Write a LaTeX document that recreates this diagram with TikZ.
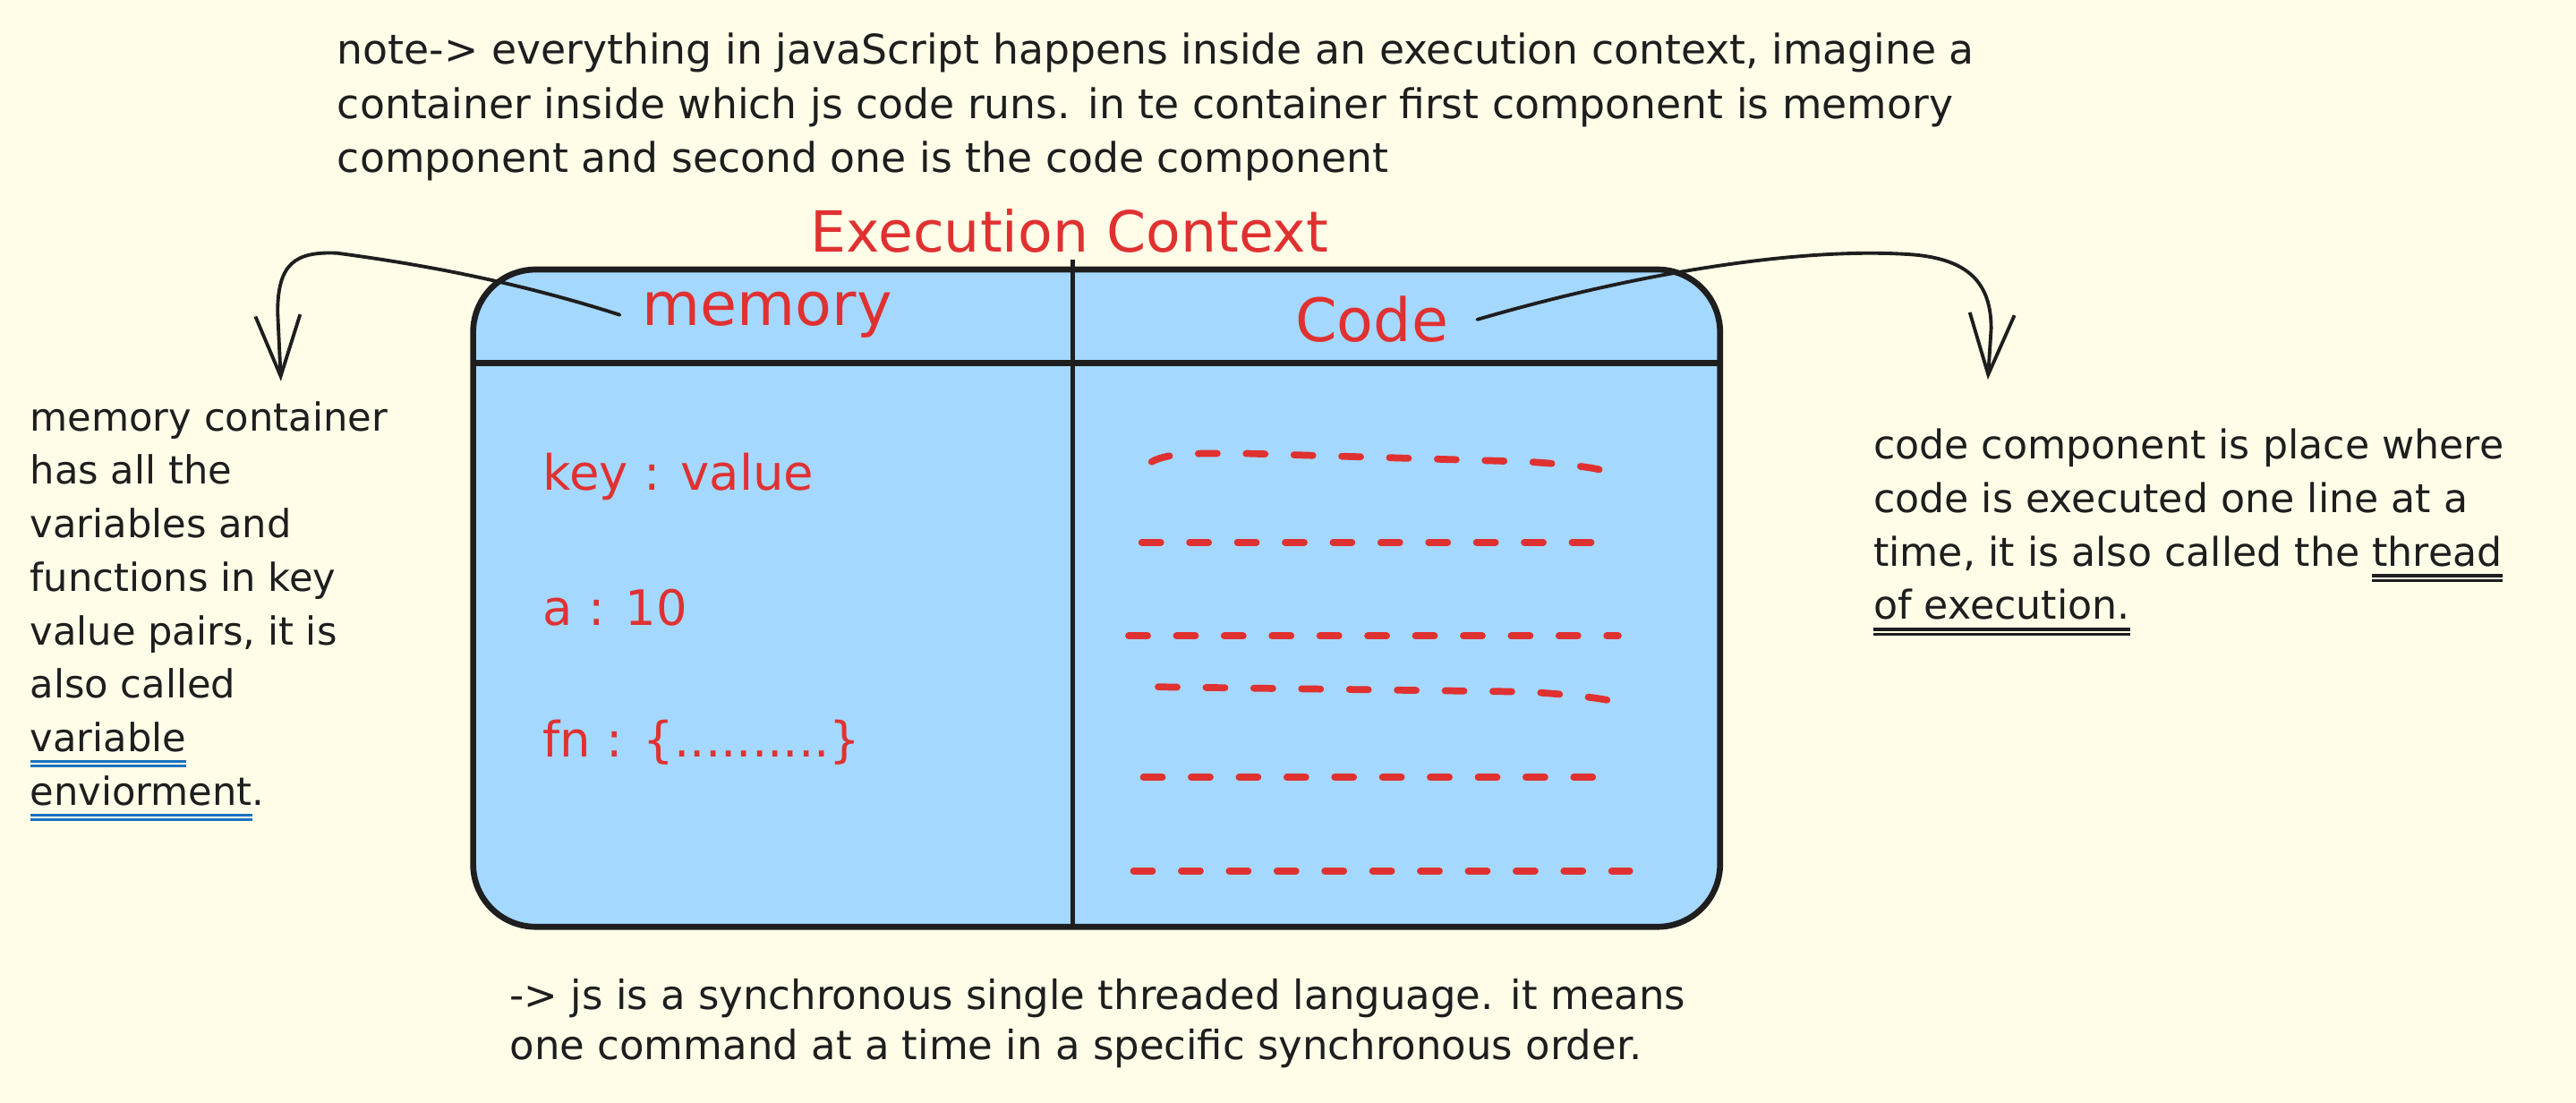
\documentclass[tikz,border=0pt]{standalone}
\usepackage{fontspec}
\setmainfont{DejaVu Sans}
\usetikzlibrary{arrows.meta, positioning}
\definecolor{paper}{HTML}{FFFDE8}
\definecolor{ctxblue}{HTML}{A5D8FF}
\definecolor{inkred}{HTML}{E03131}
\definecolor{ink}{HTML}{1E1E1E}
\definecolor{ulblue}{HTML}{1971C2}
\newsavebox{\ulbox}
\newcommand{\sketchul}[2]{\sbox{\ulbox}{#2}\rlap{\textcolor{#1}{\rule[-3.6pt]{\wd\ulbox}{1pt}}}\rlap{\textcolor{#1}{\rule[-5pt]{\wd\ulbox}{0.8pt}}}\usebox{\ulbox}}

\tikzset{
  note/.style={font=\fontsize{12.3}{17}\selectfont, text=ink, align=left, inner sep=0pt, anchor=base west},
  redlabel/.style={text=inkred, inner sep=0pt},
  entry/.style={redlabel, font=\fontsize{15.5}{15.5}\selectfont, anchor=west},
  codeline/.style={inkred, line width=2.2pt, line cap=round, dash pattern=on 6pt off 9.2pt},
  ctxline/.style={ink, line width=1.9pt},
  sketcharrow/.style={ink, line width=1.1pt, line cap=round, -{Straight Barb[length=0.68cm, width=0.5cm]}}
}

\begin{document}
\begin{tikzpicture}[x=0.018355cm, y=-0.018355cm]
  \fill[paper] (0,0) rectangle (1568,671);
  \useasboundingbox (0,0) rectangle (1568,671);

  % execution context
  \filldraw[ctxline, fill=ctxblue, rounded corners=0.7cm] (288,164) rectangle (1047,564);
  \draw[ctxline] (288,221) -- (1047,221);
  \draw[ctxline, line width=1.6pt] (653,158) -- (653,564);

  \node[redlabel, font=\fontsize{18}{18}\selectfont, anchor=base] (title) at (651,153.5) {Execution Context};
  \node[redlabel, font=\fontsize{19}{19}\selectfont, anchor=base, inner sep=7pt] (memory) at (467,198) {memory};
  \node[redlabel, font=\fontsize{19}{19}\selectfont, anchor=base, inner sep=9pt] (code) at (835,208) {Code};

  \node[entry] (keyval) at (330,290) {key : value};
  \node[entry] (aval) at (330,370) {a : 10};
  \node[entry] (fnval) at (330,452) {fn : \{..........\}};

  \draw[codeline] (701,281) .. controls (712,275) and (730,276) .. (760,276) -- (930,281)
                  .. controls (960,283) and (975,285) .. (980,288);
  \draw[codeline] (705,418) -- (930,421) .. controls (960,423) and (975,425) .. (983,427);
  \foreach \y/\xa/\xb in {330/695/975, 387/687/985, 473/696/976, 530/690/992} {
    \draw[codeline] (\xa,\y) -- (\xb,\y);
  }

  % notes (anchored on the baseline of their last line)
  \node[note, font=\fontsize{13}{17.2}\selectfont] (topnote) at (205,105) {note-> everything in javaScript happens inside an execution context, imagine a\\
    container inside which js code runs. in te container first component is memory\\
    component and second one is the code component};
  \node[note] (memnote) at (18,490) {memory container\\ has all the\\ variables and\\ functions in key\\
    value pairs, it is\\ also called\\ \sketchul{ulblue}{variable}\\ \sketchul{ulblue}{enviorment}.};
  \node[note, font=\fontsize{12.6}{17}\selectfont] (codenote) at (1140,377) {code component is place where\\ code is executed one line at a\\
    time, it is also called the \sketchul{ink}{thread}\\ \sketchul{ink}{of execution.}};
  \node[note, font=\fontsize{12.8}{16}\selectfont] (syncnote) at (310,645) {-> js is a synchronous single threaded language. it means\\
    one command at a time in a specific synchronous order.};

  % arrows
  \coordinate (memtip) at (171,232);
  \coordinate (codetip) at (1210,231);
  \draw[sketcharrow] (memory.west) .. controls (310,170) and (250,160) .. (205,154)
                     .. controls (180,153) and (169,160) .. (169,190) -- (memtip);
  \draw[sketcharrow] (code.east) .. controls (1000,165) and (1100,150) .. (1165,155)
                     .. controls (1198,158) and (1212,172) .. (1212,200) -- (codetip);
\end{tikzpicture}
\end{document}
